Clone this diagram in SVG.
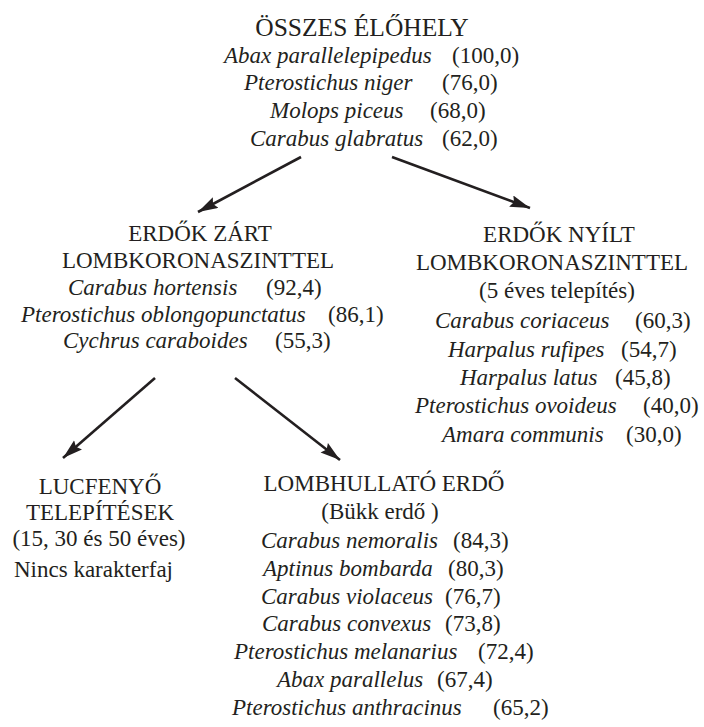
<svg xmlns="http://www.w3.org/2000/svg" width="704" height="727" viewBox="0 0 704 727">
<defs>
<marker id="ah" markerUnits="userSpaceOnUse" markerWidth="22" markerHeight="14" refX="20" refY="6" orient="auto">
<path d="M0,0 L20,6 L0,12 L3,6 Z" fill="#231f20"/>
</marker>
<style>
text{font-family:"Liberation Serif","Times New Roman",serif;fill:#231f20;font-size:23px}
.t{font-size:25.5px}
.n{font-style:italic}
.m{text-anchor:middle}
.c{stroke:#231f20;stroke-width:2.6;fill:none;marker-end:url(#ah)}
</style>
</defs>
<rect width="704" height="727" fill="#fff"/>
<g id="connectors">
<line class="c" x1="301" y1="157" x2="198" y2="212"/>
<line class="c" x1="392" y1="157" x2="530" y2="208"/>
<line class="c" x1="155" y1="378" x2="63" y2="458"/>
<line class="c" x1="235" y1="378" x2="340" y2="460"/>
</g>
<g id="node-osszes">
<text class="t m" x="362" y="36">ÖSSZES ÉLŐHELY</text>
<text class="n" x="224" y="63">Abax parallelepipedus</text><text x="452" y="63">(100,0)</text>
<text class="n" x="244" y="90">Pterostichus niger</text><text x="442" y="90">(76,0)</text>
<text class="n" x="270" y="118">Molops piceus</text><text x="430" y="118">(68,0)</text>
<text class="n" x="250" y="146">Carabus glabratus</text><text x="442" y="146">(62,0)</text>
</g>
<g id="node-zart">
<text class="m" x="200" y="241">ERDŐK ZÁRT</text>
<text class="m" x="198" y="268">LOMBKORONASZINTTEL</text>
<text class="n" x="68" y="295">Carabus hortensis</text><text x="266" y="295">(92,4)</text>
<text class="n" x="21" y="322">Pterostichus oblongopunctatus</text><text x="328" y="322">(86,1)</text>
<text class="n" x="63" y="348">Cychrus caraboides</text><text x="275" y="348">(55,3)</text>
</g>
<g id="node-nyilt">
<text class="m" x="559" y="242">ERDŐK NYÍLT</text>
<text class="m" x="552" y="270">LOMBKORONASZINTTEL</text>
<text class="m" x="557" y="298">(5 éves telepítés)</text>
<text class="n" x="435" y="328">Carabus coriaceus</text><text x="635" y="328">(60,3)</text>
<text class="n" x="448" y="357">Harpalus rufipes</text><text x="621" y="357">(54,7)</text>
<text class="n" x="460" y="385">Harpalus latus</text><text x="615" y="385">(45,8)</text>
<text class="n" x="415" y="413">Pterostichus ovoideus</text><text x="643" y="413">(40,0)</text>
<text class="n" x="442" y="442">Amara communis</text><text x="626" y="442">(30,0)</text>
</g>
<g id="node-lucfenyo">
<text class="m" x="100" y="494">LUCFENYŐ</text>
<text class="m" x="100" y="520">TELEPÍTÉSEK</text>
<text class="m" x="99" y="546">(15, 30 és 50 éves)</text>
<text x="14" y="577">Nincs karakterfaj</text>
</g>
<g id="node-lombhullato">
<text class="m" x="384" y="491">LOMBHULLATÓ ERDŐ</text>
<text class="m" x="380" y="519">(Bükk erdő )</text>
<text class="n" x="261" y="548">Carabus nemoralis</text><text x="453" y="548">(84,3)</text>
<text class="n" x="263" y="576">Aptinus bombarda</text><text x="448" y="576">(80,3)</text>
<text class="n" x="261" y="604">Carabus violaceus</text><text x="445" y="604">(76,7)</text>
<text class="n" x="262" y="631">Carabus convexus</text><text x="445" y="631">(73,8)</text>
<text class="n" x="234" y="659">Pterostichus melanarius</text><text x="478" y="659">(72,4)</text>
<text class="n" x="277" y="687">Abax parallelus</text><text x="437" y="687">(67,4)</text>
<text class="n" x="232" y="715">Pterostichus anthracinus</text><text x="493" y="715">(65,2)</text>
</g>
</svg>
